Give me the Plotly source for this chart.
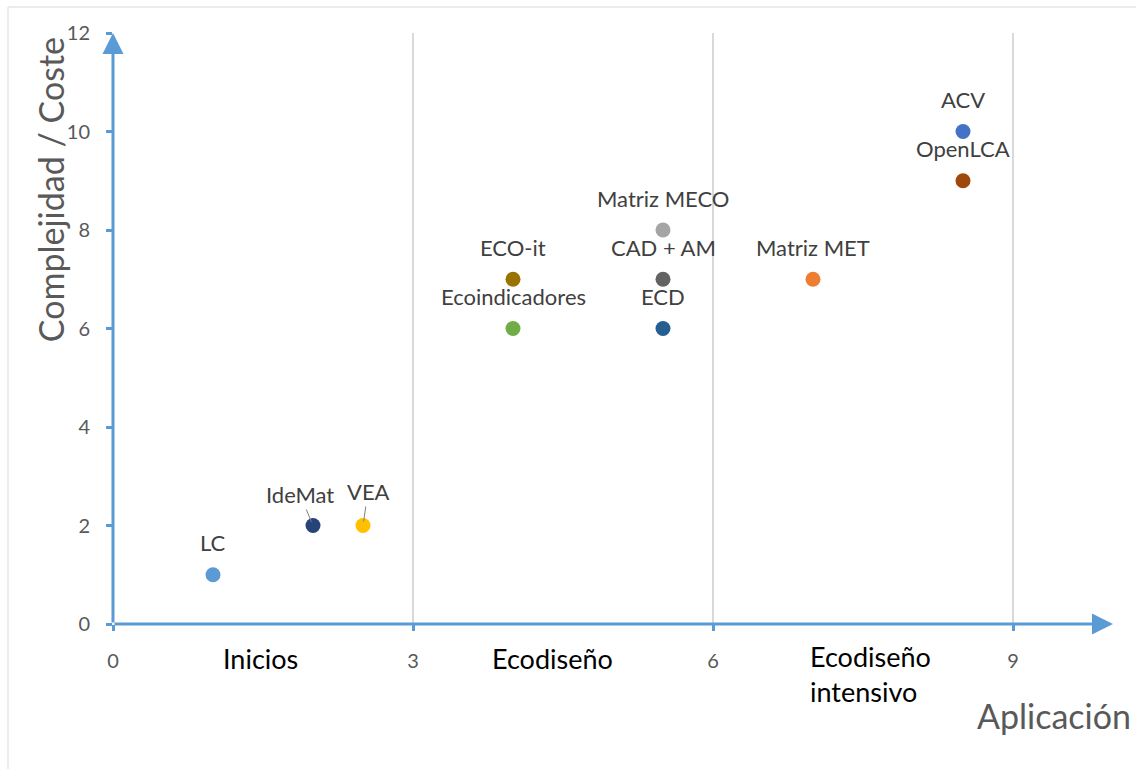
import plotly.graph_objects as go

# Data
tools = ["LC", "IdeMat", "VEA", "ECO-it", "Ecoindicadores", "Matriz MECO",
         "CAD + AM", "ECD", "Matriz MET", "ACV", "OpenLCA"]
aplicacion = [1.0, 2.0, 2.5, 4.0, 4.0, 5.5, 5.5, 5.5, 7.0, 8.5, 8.5]
complejidad = [1, 2, 2, 7, 6, 8, 7, 6, 7, 10, 9]
colors = ["#5B9BD5", "#264478", "#FFC000", "#997300", "#70AD47", "#A5A5A5",
          "#636363", "#255E91", "#ED7D31", "#4472C4", "#9E480E"]

categories = ["Inicios", "Ecodiseño", "Ecodiseño<br>intensivo"]
x_ticks = [0, 3, 6, 9]
y_ticks = [0, 2, 4, 6, 8, 10, 12]

FONT = "Lato"
AXIS_BLUE = "#5B9BD5"

fig = go.Figure()
fig.add_trace(go.Scatter(
    x=aplicacion, y=complejidad, mode="markers",
    marker=dict(size=15, color=colors, line=dict(width=0)),
    hoverinfo="text", text=tools, showlegend=False, cliponaxis=False,
))

annotations = []
# data labels
leader = {"IdeMat": (-13, -31), "VEA": (5, -34)}
for name, xv, yv in zip(tools, aplicacion, complejidad):
    if name in leader:
        ax, ay = leader[name]
        annotations.append(dict(
            x=xv, y=yv, xref="x", yref="y", text=name, showarrow=True,
            ax=ax, ay=ay, arrowhead=0, arrowwidth=1, arrowcolor="#7F7F7F",
            standoff=4, font=dict(family=FONT, size=22, color="#404040")))
    else:
        annotations.append(dict(
            x=xv, y=yv, xref="x", yref="y", text=name, showarrow=False,
            yshift=32, font=dict(family=FONT, size=22, color="#404040")))

# category labels under x axis
cat_pos = [(1.47, "center", -34), (4.39, "center", -34), (6.95, "left", -50)]
for label, (xp, anchor, ys) in zip(categories, cat_pos):
    annotations.append(dict(
        x=xp, y=0, xref="x", yref="y", text=label, showarrow=False,
        xanchor=anchor, yanchor="middle", align="left", yshift=ys,
        font=dict(family=FONT, size=27, color="#000000")))

# axis titles
annotations.append(dict(
    x=-0.063, y=0.734, xref="paper", yref="paper", text="Complejidad / Coste",
    showarrow=False, textangle=-90, xanchor="center", yanchor="middle",
    font=dict(family=FONT, size=34, color="#595959")))
annotations.append(dict(
    x=1.02, y=-0.154, xref="paper", yref="paper", text="Aplicación",
    showarrow=False, xanchor="right", yanchor="middle",
    font=dict(family=FONT, size=34, color="#595959")))

# axis arrows
annotations.append(dict(
    x=10, y=0, ax=0, ay=0, xref="x", yref="y", axref="x", ayref="y",
    showarrow=True, arrowhead=2, arrowsize=1.4, arrowwidth=3,
    arrowcolor=AXIS_BLUE, text=""))
annotations.append(dict(
    x=0, y=12, ax=0, ay=0, xref="x", yref="y", axref="x", ayref="y",
    showarrow=True, arrowhead=2, arrowsize=1.4, arrowwidth=3,
    arrowcolor=AXIS_BLUE, text=""))

fig.update_layout(
    width=1136, height=769,
    margin=dict(l=113, r=23, t=33, b=145),
    paper_bgcolor="white", plot_bgcolor="white",
    font=dict(family=FONT),
    annotations=annotations,
    shapes=[dict(type="rect", xref="paper", yref="paper",
                 x0=-0.105, x1=1.04, y0=-0.27, y1=1.044,
                 line=dict(color="#D9D9D9", width=1), layer="below")],
    xaxis=dict(range=[0, 10], tickvals=x_ticks, showgrid=True,
               gridcolor="#D9D9D9", gridwidth=1.5, zeroline=False,
               showline=False, ticks="outside", ticklen=6, tickwidth=3,
               tickcolor=AXIS_BLUE, ticklabelstandoff=13,
               tickfont=dict(family=FONT, size=20, color="#595959")),
    yaxis=dict(range=[0, 12], tickvals=y_ticks, showgrid=False,
               zeroline=False, showline=False, ticks="outside", ticklen=6,
               tickwidth=3, tickcolor=AXIS_BLUE, ticklabelstandoff=12,
               tickfont=dict(family=FONT, size=20, color="#595959")),
)

fig.write_html("out.html")
